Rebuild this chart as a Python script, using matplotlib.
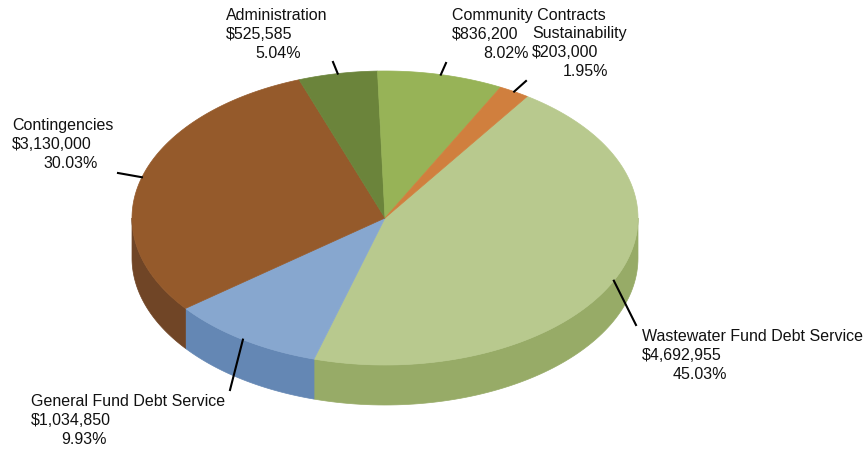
import matplotlib.pyplot as plt
import numpy as np

names = ["Wastewater Fund Debt Service", "General Fund Debt Service", "Contingencies",
         "Administration", "Community Contracts", "Sustainability"]
amounts = [4692955, 1034850, 3130000, 525585, 836200, 203000]

top_colors = ["#b8c98e", "#87a7cf", "#955a2b", "#6b843b", "#97b357", "#d07f3e"]
side_colors = ["#97ab67", "#6487b4", "#704526", "#56702e", "#7d9744", "#aa6630"]

# ellipse geometry in pixels
cx, cy = 385, 218
rx, ry = 253, 147
depth = 40
start_angle = 55.8

# label layout: (x of first two lines, baseline of first line, x of percent line), leader end
label_pos = [
    (642, 341, 673, (636, 325)),
    (31, 406, 61, (230, 390)),
    (12, 130, 43, (118, 173)),
    (226, 20, 255, (333, 62)),
    (452, 20, 483, (446, 63)),
    (532, 38, 563, (526, 81)),
]
line_gap = 19


def ell(t):
    t = np.radians(t)
    return cx + rx * np.cos(t), cy - ry * np.sin(t)


def main():
    fig = plt.figure(figsize=(8.63, 4.49), dpi=100)
    ax = fig.add_axes([0, 0, 1, 1])
    ax.set_xlim(0, 863)
    ax.set_ylim(449, 0)
    ax.axis("off")

    total = sum(amounts)
    angles = [start_angle]
    for v in amounts:
        angles.append(angles[-1] - 360.0 * v / total)

    for i, v in enumerate(amounts):
        a0, a1 = angles[i + 1], angles[i]

        # side wall, only the front half of the rim shows
        for k in (-1, 0, 1):
            lo = max(a0, k * 360 - 180)
            hi = min(a1, k * 360)
            if hi <= lo:
                continue
            t = np.linspace(lo, hi, 80)
            x, y = ell(t)
            xs = np.concatenate([x, x[::-1]])
            ys = np.concatenate([y, y[::-1] + depth])
            ax.fill(xs, ys, color=side_colors[i], lw=0.5, ec=side_colors[i], zorder=1)

        t = np.linspace(a0, a1, 120)
        x, y = ell(t)
        xs = np.concatenate([[cx], x])
        ys = np.concatenate([[cy], y])
        ax.fill(xs, ys, color=top_colors[i], lw=0.5, ec=top_colors[i], zorder=2)

    for i, v in enumerate(amounts):
        mid = (angles[i] + angles[i + 1]) / 2
        px, py = ell(mid)
        lx, ly, pcx, end = label_pos[i]
        ax.plot([px, end[0]], [py, end[1]], color="black", lw=1.5, zorder=3)
        kw = dict(fontsize=11.5, family=["Liberation Sans", "DejaVu Sans"],
                  color="#111111", va="baseline", ha="left")
        ax.text(lx, ly, names[i], **kw)
        ax.text(lx, ly + line_gap, "${:,}".format(v), **kw)
        ax.text(pcx, ly + 2 * line_gap, "{:.2f}%".format(100.0 * v / total), **kw)

    fig.savefig("out.png", dpi=100)


if __name__ == "__main__":
    main()
